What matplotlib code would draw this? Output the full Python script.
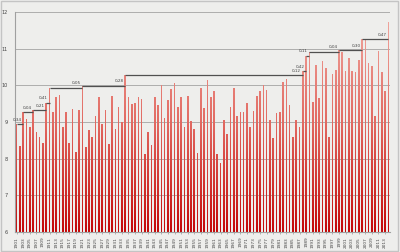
import numpy as np
import matplotlib
matplotlib.use("Agg")
import matplotlib.pyplot as plt
from matplotlib.path import Path
from matplotlib.colors import LinearSegmentedColormap
from matplotlib.patches import Rectangle

# yearly mean temperature, 1901-2014
years = list(range(1901, 2015))
temps = [
    8.94, 8.35, 9.28, 9.07, 8.85, 9.32, 8.72, 8.58, 8.42, 9.53,
    9.94, 9.28, 9.69, 9.74, 8.87, 9.26, 8.42, 9.35, 8.17, 9.33,
    9.99, 8.31, 8.78, 8.58, 9.16, 9.69, 8.95, 9.33, 8.39, 9.72,
    8.81, 9.40, 9.01, 10.27, 9.69, 9.49, 9.51, 9.69, 9.63, 8.13,
    8.72, 8.37, 9.67, 9.46, 10.01, 9.12, 9.60, 9.90, 10.07, 9.40,
    9.69, 8.87, 9.71, 9.04, 8.81, 8.15, 9.92, 9.37, 10.15, 9.69,
    9.85, 8.13, 7.87, 9.05, 8.67, 9.40, 9.93, 9.16, 9.26, 9.26,
    9.51, 8.87, 9.30, 9.71, 9.85, 10.01, 9.87, 9.05, 8.56, 9.24,
    9.26, 10.08, 10.16, 9.46, 8.60, 9.05, 8.87, 10.39, 10.81, 10.92,
    9.55, 10.55, 9.66, 10.65, 10.48, 8.60, 10.30, 10.42, 10.96, 10.90,
    10.40, 10.75, 10.40, 10.36, 10.69, 11.26, 11.23, 10.62, 10.53, 9.16,
    10.94, 10.37, 9.85, 11.73,
]
y_ticks = [6, 7, 8, 9, 10, 11, 12]

bg = "#eeeeec"
fig = plt.figure(figsize=(4, 2.52), dpi=100, facecolor=bg)
ax = fig.add_axes([0.0375, 0.0794, 0.9375, 0.873])
ax.set_facecolor(bg)

x = np.arange(len(years))
bars = ax.bar(x, temps, width=0.5, color="none", zorder=2)

# vertical red gradient clipped to the bars
cmap = LinearSegmentedColormap.from_list("redgrad", ["#c40808", "#e26a62", "#f0aaa2"])
grad = np.linspace(0, 1, 256).reshape(-1, 1)
im = ax.imshow(grad, extent=(-0.5, len(x) - 0.5, 6, 12), origin="lower",
               aspect="auto", cmap=cmap, zorder=2)
paths = [b.get_path().transformed(b.get_patch_transform()) for b in bars]
im.set_clip_path(Path.make_compound_path(*paths), ax.transData)

# record steps
rec = [0]
for i in range(1, len(temps)):
    if temps[i] > temps[rec[-1]]:
        rec.append(i)
for a, b in zip(rec[:-1], rec[1:]):
    ax.plot([a, b], [temps[a], temps[a]], color="#505050", lw=0.9, zorder=3,
            solid_capstyle="butt")
    diff = f"{temps[b] - temps[a]:.2f}".replace(".", ",")
    ax.text(b - 0.5, temps[a] + 0.06, diff, ha="right", va="bottom",
            fontsize=3.0, color="#444444", zorder=4)

ax.set_xlim(-0.5, len(x) - 0.5)
ax.set_ylim(6, 12)
ax.set_yticks(y_ticks)
ax.set_xticks(x[::2])
ax.set_xticklabels([str(y) for y in years[::2]], rotation=90, fontsize=3.1, color="#444444")
ax.tick_params(axis="y", labelsize=3.6, labelcolor="#444444", length=0, pad=5)
ax.tick_params(axis="x", length=1.5, width=0.5, color="#999999", pad=2)
ax.yaxis.grid(True, color="#adadad", lw=0.7)
ax.set_axisbelow(True)
for s in ["top", "right"]:
    ax.spines[s].set_visible(False)
ax.spines["left"].set_color("#a0a0a0")
ax.spines["bottom"].set_color("#a0a0a0")

fig.patches.append(Rectangle((0.003, 0.005), 0.993, 0.99, transform=fig.transFigure,
                             fill=False, edgecolor="#c4c4c4", lw=1))

fig.savefig("out.png", dpi=100, facecolor=bg)
